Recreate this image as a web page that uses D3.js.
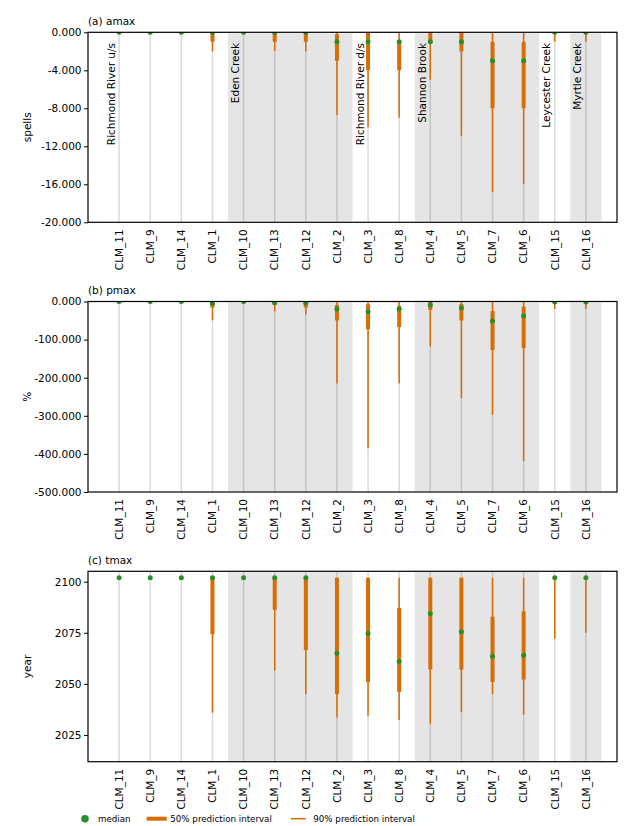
<!DOCTYPE html>
<html>
<head>
<meta charset="utf-8">
<script src="https://cdn.jsdelivr.net/npm/d3@7"></script>
<style>
  html, body { margin: 0; padding: 0; background: #fff; }
  svg { display: block; font-family: "DejaVu Sans", sans-serif; }
</style>
</head>
<body>
<svg id="chart" width="634" height="826"></svg>
<script>
// ---------------- data ----------------
const categories = ["CLM_11","CLM_9","CLM_14","CLM_1","CLM_10","CLM_13","CLM_12","CLM_2","CLM_3","CLM_8","CLM_4","CLM_5","CLM_7","CLM_6","CLM_15","CLM_16"];

const groupNames  = ["Richmond River u/s","Eden Creek","Richmond River d/s","Shannon Brook","Leycester Creek","Myrtle Creek"];
const groupSizes  = [4, 4, 2, 4, 1, 1];
const groupShaded = [false, true, false, true, false, true];

// (a) amax  (spells)
const amaxMedian = [0,0,0,0,0,0,0,-1,-1,-1,-1,-1,-3,-3,0,0];
const amax50Hi   = [0,0,0,0,0,0,0,-0.2,0,-1,0,0,-1,-1,0,0];
const amax50Lo   = [0,0,0,-1,0,-1,-1,-3,-4,-4,-1.1,-2,-8,-8,0,0];
const amax90Hi   = [0,0,0,0,0,0,0,0,0,0,0,0,0,0,0,0];
const amax90Lo   = [0,0,0,-2,0,-2,-2,-8.7,-10,-9,-5,-10.9,-16.8,-16,-1,-1];
const amaxTicks  = [0,-4,-8,-12,-16,-20];

// (b) pmax  (%)
const pmaxMedian = [0,0,0,-5,0,-3,-4,-20,-27,-20,-9,-17,-51,-38,-1.5,-1.5];
const pmax50Hi   = [0,0,0,0,0,0,0,-9,-7,-11,0,-6.5,-25,-13.5,0,0];
const pmax50Lo   = [0,0,0,-16,0,-9,-16,-50,-73,-67,-22,-50,-127,-122,-2,-2];
const pmax90Hi   = [0,0,0,0,0,0,0,0,0,0,0,0,0,0,0,0];
const pmax90Lo   = [0,0,0,-49,0,-26,-34,-215,-385,-215,-118,-254,-297,-419,-20,-20];
const pmaxTicks  = [0,-100,-200,-300,-400,-500];

// (c) tmax  (year)
const tmaxMedian = [2102,2102,2102,2102,2102,2102,2102,2065,2074.6,2061,2084.5,2075.5,2063.5,2064,2102,2102];
const tmax50Hi   = [2102,2102,2102,2102,2102,2102,2102,2102,2102,2087.1,2102,2102,2082.9,2085.5,2102,2102];
const tmax50Lo   = [2102,2102,2102,2074.3,2102,2086.3,2066.6,2045.1,2050.8,2046,2057,2057,2050.9,2052.1,2102,2102];
const tmax90Hi   = [2102,2102,2102,2102,2102,2102,2102,2102,2102,2102,2102,2102,2102,2102,2102,2102];
const tmax90Lo   = [2102,2102,2102,2035.9,2102,2056.5,2044.9,2033.5,2034.4,2032.3,2030.5,2036.1,2044.9,2034.9,2072.1,2075];
const tmaxTicks  = [2025,2050,2075,2100];

const legendLabels = ["median","50% prediction interval","90% prediction interval"];

// ---------------- styling / layout ----------------
const ORANGE = "#d66d05";
const GREEN = "#2a8c2a";
const SHADE = "#e5e5e5";
const FONT = 10.5;
const left = 88, right = 617;

const fixedFmt = d3.formatLocale({decimal: ".", thousands: ",", grouping: [3], currency: ["", ""], minus: "-"}).format(".3f");
const yearFmt = d3.format("d");

const panels = [
  {id: "a", title: "(a) amax", ylabel: "spells", top: 32.3, bottom: 222.3, domain: [-20, 0], ticks: amaxTicks, fmt: fixedFmt,
   med: amaxMedian, h50: amax50Hi, l50: amax50Lo, h90: amax90Hi, l90: amax90Lo, groupLabels: true},
  {id: "b", title: "(b) pmax", ylabel: "%", top: 301.5, bottom: 492, domain: [-500, 0], ticks: pmaxTicks, fmt: fixedFmt,
   med: pmaxMedian, h50: pmax50Hi, l50: pmax50Lo, h90: pmax90Hi, l90: pmax90Lo, groupLabels: false},
  {id: "c", title: "(c) tmax", ylabel: "year", top: 571.3, bottom: 761.7, domain: [2011.9, 2105.1], ticks: tmaxTicks, fmt: yearFmt,
   med: tmaxMedian, h50: tmax50Hi, l50: tmax50Lo, h90: tmax90Hi, l90: tmax90Lo, groupLabels: false}
];

const svg = d3.select("#chart");
const x = d3.scalePoint().domain(categories).range([left, right]).padding(1);
const step = x.step();

// group extents
let idx = 0;
const groups = groupNames.map((name, i) => {
  const first = categories[idx], last = categories[idx + groupSizes[i] - 1];
  idx += groupSizes[i];
  return {name, first, last, shaded: groupShaded[i]};
});

panels.forEach(p => {
  const y = d3.scaleLinear().domain(p.domain).range([p.bottom, p.top]);
  const g = svg.append("g");
  const clipId = "clip-" + p.id;
  svg.append("clipPath").attr("id", clipId)
    .append("rect").attr("x", left).attr("y", p.top).attr("width", right - left).attr("height", p.bottom - p.top);

  const plot = g.append("g").attr("clip-path", `url(#${clipId})`);

  // shaded groups
  plot.selectAll("rect.shade").data(groups.filter(d => d.shaded)).join("rect")
    .attr("class", "shade")
    .attr("x", d => x(d.first) - step / 2)
    .attr("width", d => x(d.last) - x(d.first) + step)
    .attr("y", p.top + 1)
    .attr("height", p.bottom - p.top - 2)
    .attr("fill", SHADE);

  // category guide lines
  plot.selectAll("line.guide").data(categories).join("line")
    .attr("x1", d => x(d)).attr("x2", d => x(d))
    .attr("y1", p.top).attr("y2", p.bottom)
    .attr("stroke", "rgba(0,0,0,0.15)").attr("stroke-width", 1.5);

  // 90% interval
  plot.selectAll("line.i90").data(categories).join("line")
    .attr("x1", d => x(d)).attr("x2", d => x(d))
    .attr("y1", (d, i) => y(p.h90[i])).attr("y2", (d, i) => y(p.l90[i]))
    .attr("stroke", ORANGE).attr("stroke-width", 1.5);

  // 50% interval
  plot.selectAll("line.i50").data(categories).join("line")
    .attr("x1", d => x(d)).attr("x2", d => x(d))
    .attr("y1", (d, i) => y(p.h50[i])).attr("y2", (d, i) => y(p.l50[i]))
    .attr("stroke", ORANGE).attr("stroke-width", 4);

  // medians
  plot.selectAll("circle.med").data(categories).join("circle")
    .attr("cx", d => x(d)).attr("cy", (d, i) => y(p.med[i]))
    .attr("r", 2.5).attr("fill", GREEN);

  // frame
  g.append("rect").attr("x", left).attr("y", p.top).attr("width", right - left).attr("height", p.bottom - p.top)
    .attr("fill", "none").attr("stroke", "#000").attr("stroke-width", 1.2);

  // y axis
  const yAxis = d3.axisLeft(y).tickValues(p.ticks).tickFormat(p.fmt).tickSizeOuter(0).tickSizeInner(4).tickPadding(2.5);
  const ya = g.append("g").attr("transform", `translate(${left},0)`).call(yAxis);
  ya.select(".domain").remove();
  ya.selectAll("text").attr("font-size", FONT).attr("font-family", "DejaVu Sans").attr("fill", "#000");
  ya.selectAll("line").attr("stroke", "#000").attr("stroke-width", 1);

  // x axis labels
  g.selectAll("text.xl").data(categories).join("text")
    .attr("transform", d => `translate(${x(d)},${p.bottom + 7}) rotate(-90)`)
    .attr("text-anchor", "end").attr("dy", "0.36em")
    .attr("font-size", FONT).text(d => d);

  // title
  g.append("text").attr("x", left).attr("y", p.top - 7.5).attr("font-size", FONT).text(p.title);

  // y label
  g.append("text").attr("transform", `translate(31,${(p.top + p.bottom) / 2}) rotate(-90)`)
    .attr("text-anchor", "middle").attr("font-size", FONT).text(p.ylabel);

  // group labels
  if (p.groupLabels) {
    g.selectAll("text.grp").data(groups).join("text")
      .attr("transform", d => `translate(${x(d.first) - step / 2 + 11},${p.top + 10.7}) rotate(-90)`)
      .attr("text-anchor", "end").attr("font-size", FONT).text(d => d.name);
  }
});

// legend
const ly = 818.7;
const leg = svg.append("g").attr("font-size", 8.7);
leg.append("circle").attr("cx", 85).attr("cy", ly).attr("r", 3.8).attr("fill", GREEN);
leg.append("text").attr("x", 98).attr("y", ly).attr("dy", "0.35em").text(legendLabels[0]);
leg.append("line").attr("x1", 146.7).attr("x2", 166.7).attr("y1", ly).attr("y2", ly).attr("stroke", ORANGE).attr("stroke-width", 4);
leg.append("text").attr("x", 170.3).attr("y", ly).attr("dy", "0.35em").text(legendLabels[1]);
leg.append("line").attr("x1", 291).attr("x2", 305.7).attr("y1", ly).attr("y2", ly).attr("stroke", ORANGE).attr("stroke-width", 1.5);
leg.append("text").attr("x", 313.3).attr("y", ly).attr("dy", "0.35em").text(legendLabels[2]);
</script>
</body>
</html>
